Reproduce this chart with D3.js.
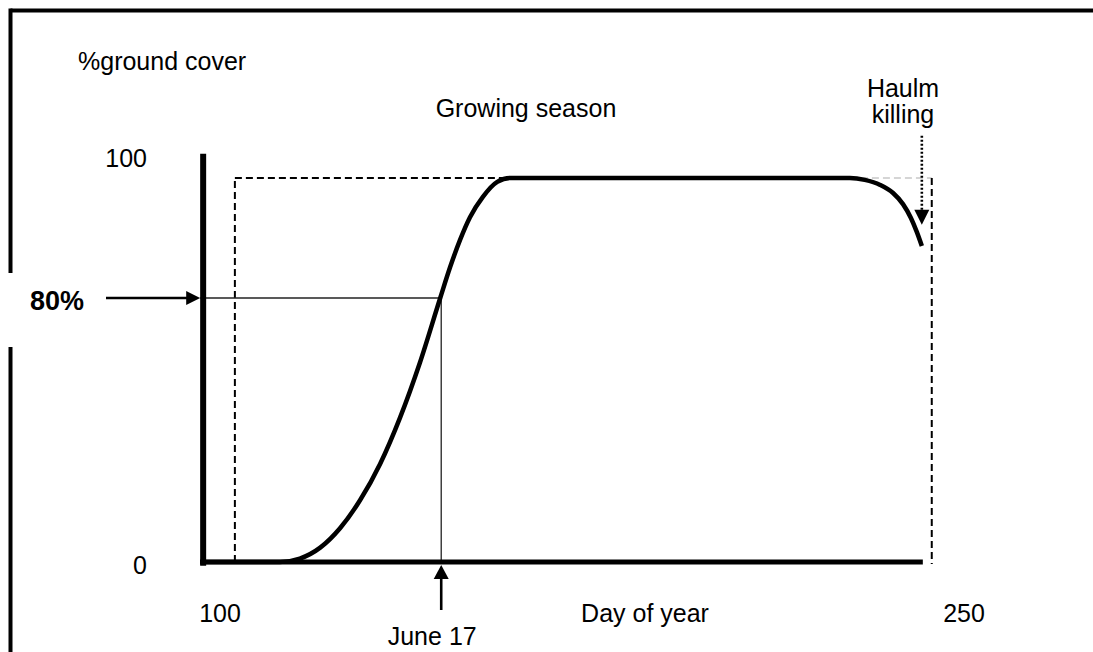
<!DOCTYPE html>
<html>
<head>
<meta charset="utf-8">
<style>
  * { margin: 0; padding: 0; }
  body { background: #fff; }
  svg text { font-family: 'Liberation Sans', Arial, sans-serif; fill: #000; }
  .lbl { font-size: 25px; }
  .bold { font-weight: bold; font-size: 27px; }
</style>
</head>
<body>
<div id="chart"></div>
<script src="https://cdn.jsdelivr.net/npm/d3@7"></script>
<script>
// ground cover curve (day of year, % cover)
const curveDay   = [96, 112.1, 116.1, 120.2, 124.2, 128.2, 132.3, 136.3, 140.3, 144.4, 146.4, 148.4, 150.4, 153.0, 155.9, 158.5,
                    227.0, 230.0, 233.1, 235.7, 237.7, 239.3, 240.5, 241.5];
const curveCover = [0, 0, 0.9, 3.75, 8.8, 16.0, 25.6, 37.6, 51.9, 68.75, 76.8, 83.9, 89.8, 95.1, 99.0, 100,
                    100, 99.5, 98.2, 96.1, 93.2, 89.6, 85.9, 82.3];

const xTicks = [100, 250];
const yTicks = [0, 100];

const season = [103, 243.5];       // dashed growing-season window
const axisDays = [96, 241.7];      // extent of the thick x axis
const axisCover = [-1, 106.3];     // extent of the thick y axis
const markDay = 144.6;             // June 17
const markCover = 68.75;           // 80% point as drawn
const haulmDay = 241.5;            // haulm killing arrow
const haulmCover = [111, 87.8];

const W = 1093, H = 652;

let x = d3.scaleLinear().domain([100, 250]).range([220, 964]);
let y = d3.scaleLinear().domain([0, 100]).range([562, 178]);

let svg = d3.select('#chart').append('svg')
  .attr('width', W).attr('height', H);

// outer frame (only top and left are visible)
svg.append('line').attr('x1', 10.5).attr('x2', W).attr('y1', 10.5).attr('y2', 10.5)
  .attr('stroke', '#000').attr('stroke-width', 4);
svg.append('line').attr('x1', 10.5).attr('x2', 10.5).attr('y1', 8.5).attr('y2', H)
  .attr('stroke', '#000').attr('stroke-width', 4);
svg.append('rect').attr('x', 5).attr('y', 273).attr('width', 12).attr('height', 74).attr('fill', '#fff');

// dashed growing season window
function dline(x1, y1, x2, y2, col) {
  return svg.append('line').attr('x1', x1).attr('y1', y1).attr('x2', x2).attr('y2', y2)
    .attr('stroke', col || '#000').attr('stroke-width', col ? 1.3 : 2)
    .attr('stroke-dasharray', '7,4').attr('fill', 'none');
}
dline(x(season[0]), y(0), x(season[0]), y(100) - 1);
dline(x(season[0]), y(100), x(158.5), y(100));
dline(x(227), y(100), x(season[1]), y(100), '#c8c8c8');
dline(x(season[1]), y(100), x(season[1]), y(0) + 2);

// thin guide lines to the 80% point
svg.append('line').attr('x1', x(axisDays[0])).attr('x2', x(markDay))
  .attr('y1', y(markCover)).attr('y2', y(markCover))
  .attr('stroke', '#222').attr('stroke-width', 1.3);
svg.append('line').attr('x1', x(markDay)).attr('x2', x(markDay))
  .attr('y1', y(markCover)).attr('y2', y(0))
  .attr('stroke', '#222').attr('stroke-width', 1.3);

// thick axes
svg.append('line').attr('x1', x(axisDays[0]) + 3).attr('x2', x(axisDays[0]) + 3)
  .attr('y1', y(axisCover[1])).attr('y2', y(axisCover[0]))
  .attr('stroke', '#000').attr('stroke-width', 6);
svg.append('line').attr('x1', x(axisDays[0])).attr('x2', x(axisDays[1]))
  .attr('y1', y(0)).attr('y2', y(0))
  .attr('stroke', '#000').attr('stroke-width', 5);

// the curve
let pts = curveDay.map((d, i) => [d, curveCover[i]]);
let line = d3.line().x(d => x(d[0])).y(d => y(d[1])).curve(d3.curveMonotoneX);
svg.append('path').datum(pts).attr('d', line)
  .attr('fill', 'none').attr('stroke', '#000').attr('stroke-width', 4.5)
  .attr('stroke-linejoin', 'round');

// 80% arrow
let ay = y(markCover), ax = x(axisDays[0]);
svg.append('line').attr('x1', 106).attr('x2', ax - 12).attr('y1', ay).attr('y2', ay)
  .attr('stroke', '#000').attr('stroke-width', 2.6);
svg.append('path').attr('d', `M${ax},${ay} L${ax - 14},${ay - 7} L${ax - 14},${ay + 7}Z`).attr('fill', '#000');
svg.append('text').attr('class', 'bold').attr('x', 30).attr('y', ay + 12).text('80%');

// June 17 arrow
let jx = x(markDay), jy = y(0) + 3;
svg.append('line').attr('x1', jx).attr('x2', jx).attr('y1', jy + 12).attr('y2', 610)
  .attr('stroke', '#000').attr('stroke-width', 2.6);
svg.append('path').attr('d', `M${jx},${jy} L${jx - 7.5},${jy + 14} L${jx + 7.5},${jy + 14}Z`).attr('fill', '#000');
svg.append('text').attr('class', 'lbl').attr('x', jx - 9).attr('y', 645)
  .attr('text-anchor', 'middle').text('June 17');

// haulm killing dotted arrow
let hx = x(haulmDay);
svg.append('line').attr('x1', hx).attr('x2', hx).attr('y1', y(haulmCover[0])).attr('y2', y(haulmCover[1]) - 14)
  .attr('stroke', '#000').attr('stroke-width', 2.6).attr('stroke-dasharray', '2,2');
svg.append('path').attr('d', `M${hx},${y(haulmCover[1])} L${hx - 7.5},${y(haulmCover[1]) - 15} L${hx + 7.5},${y(haulmCover[1]) - 15}Z`).attr('fill', '#000');
svg.append('text').attr('class', 'lbl').attr('x', 903).attr('y', 97).attr('text-anchor', 'middle').text('Haulm');
svg.append('text').attr('class', 'lbl').attr('x', 903).attr('y', 123).attr('text-anchor', 'middle').text('killing');

// tick labels
svg.selectAll('.xt').data(xTicks).enter().append('text').attr('class', 'lbl')
  .attr('x', d => x(d)).attr('y', 622).attr('text-anchor', 'middle').text(d => d);
svg.selectAll('.yt').data(yTicks).enter().append('text').attr('class', 'lbl')
  .attr('x', 147).attr('y', d => d === 0 ? y(d) + 12 : y(d) - 11)
  .attr('text-anchor', 'end').text(d => d);

// titles
svg.append('text').attr('class', 'lbl').attr('x', 645).attr('y', 622).attr('text-anchor', 'middle').text('Day of year');
svg.append('text').attr('class', 'lbl').attr('x', 78).attr('y', 70).text('%ground cover');
svg.append('text').attr('class', 'lbl').attr('x', 526).attr('y', 117).attr('text-anchor', 'middle').text('Growing season');
</script>
</body>
</html>
